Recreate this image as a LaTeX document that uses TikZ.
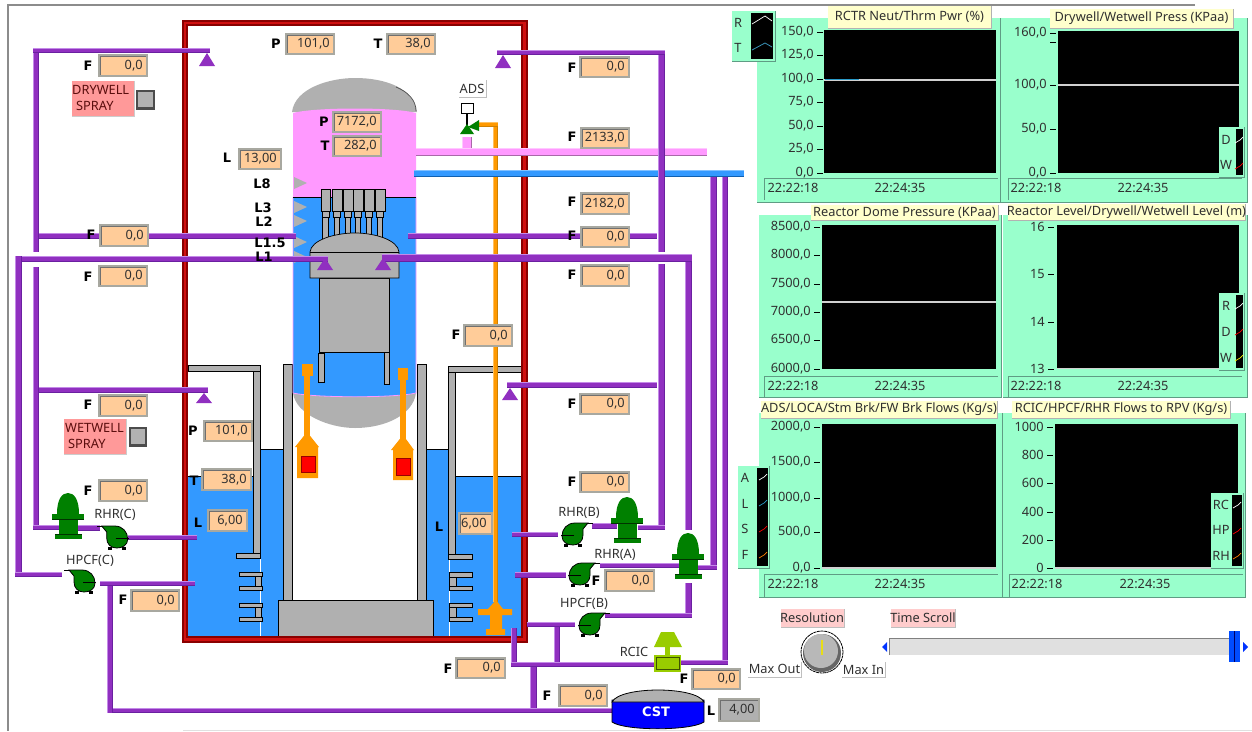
\documentclass[tikz,border=0pt]{standalone}
\usepackage{fontspec}
\setmainfont{Noto Sans}
\newfontfamily\bfam{DejaVu Sans}
\definecolor{purL}{HTML}{C48AE8}\definecolor{purM}{HTML}{9030C0}\definecolor{purD}{HTML}{6A20A0}
\definecolor{pnkL}{HTML}{FFC8FF}\definecolor{pnkM}{HTML}{FF99FF}\definecolor{pnkD}{HTML}{A868A8}
\definecolor{bluL}{HTML}{80C0FF}\definecolor{bluM}{HTML}{3399FF}\definecolor{bluD}{HTML}{1060B0}
\definecolor{oraL}{HTML}{FFC060}\definecolor{oraM}{HTML}{FF9900}\definecolor{oraD}{HTML}{D08000}
\definecolor{water}{HTML}{3399FF}\definecolor{steam}{HTML}{FF99FF}\definecolor{steel}{HTML}{B0B0B0}
\definecolor{peach}{HTML}{FFCC99}\definecolor{bev}{HTML}{A8A8A0}\definecolor{bevD}{HTML}{707070}
\definecolor{mint}{HTML}{99FFCC}\definecolor{mintD}{HTML}{5F9C84}\definecolor{tip}{HTML}{FFFFCC}
\definecolor{rose}{HTML}{FF9999}\definecolor{lrose}{HTML}{FFCCCC}\definecolor{pumpg}{HTML}{008000}
\definecolor{lime}{HTML}{99CC00}\definecolor{txt}{HTML}{303030}\definecolor{redD}{HTML}{8A0000}\definecolor{redM}{HTML}{D01010}
\newcounter{nd}
\tikzset{
  lab/.style={inner sep=0pt,font=\fontsize{12.8}{14}\selectfont,text=txt},
  blab/.style={inner sep=0pt,font=\bfam\fontsize{13}{14}\selectfont\bfseries,text=black},
  stl/.style={fill=steel,draw=black,line width=.7pt},
  pg/.style={fill=pumpg},
}
\newcommand\lbl[4][lab]{\stepcounter{nd}\node[#1] (t\arabic{nd}) at (#2,#3) {#4};}
\newcommand\hp[5]{\fill[#1M] (#2,{#4-.4}) rectangle (#3,{#5+.4});
  \fill[#1L] (#2,{#4-.4}) rectangle (#3,{#4+1});
  \fill[#1D] (#2,{#5-1}) rectangle (#3,{#5+.4});}
\newcommand\vp[5]{\fill[#1M] ({#2-.4},#4) rectangle ({#3+.4},#5);
  \fill[#1L] ({#2-.4},#4) rectangle ({#2+1},#5);
  \fill[#1D] ({#3-1},#4) rectangle ({#3+.4},#5);}
% value box: x1 y1 x2 y2 text colour
\newcommand\val[6][peach]{\stepcounter{nd}
  \fill[bev] (#2,#3) rectangle (#4,#5);
  \fill[bevD] ({#2+2},{#3+2}) rectangle ({#4-2},{#5-2});
  \fill[#1] ({#2+3},{#3+3}) rectangle ({#4-2},{#5-2});
  \node[lab,anchor=east] (v\arabic{nd}) at ({#4-5},{(#3+#5)/2}) {#6};}
\newcommand\valL[6][peach]{\stepcounter{nd}
  \fill[bev] (#2,#3) rectangle (#4,#5);
  \fill[bevD] ({#2+2},{#3+2}) rectangle ({#4-2},{#5-2});
  \fill[#1] ({#2+3},{#3+3}) rectangle ({#4-2},{#5-2});
  \node[lab,anchor=west] (v\arabic{nd}) at ({#2+3},{(#3+#5)/2}) {#6};}
\newcommand\tri[3]{\fill[purM] (#1,#2) -- ({#1-8},#3) -- ({#1+8},#3) -- cycle;}
\newcommand\lev[1]{\fill[steel] (294,{#1-6}) -- (307,#1) -- (294,{#1+6}) -- cycle;}
\newcommand\vpump[2]{\begin{scope}[shift={(#1,#2)}]
  \fill[pg] (-11,21) .. controls (-11,6) and (-6,0) .. (0,0) .. controls (6,0) and (11,6) .. (11,21) -- cycle;
  \fill[pg] (-16,21) rectangle (16,27);
  \fill[pg] (-9.5,27) rectangle (9.5,41);
  \fill[pg] (-13.5,41) rectangle (13.5,46);
  \fill[black!60!pumpg] (-16,26) rectangle (16,27);
  \fill[black!60!pumpg] (-13.5,41) rectangle (13.5,42);
\end{scope}}
\newcommand\hpump[3]{\begin{scope}[shift={(#1,#2)},xscale=#3]
  \fill[black] (-9,9) rectangle (-5,12);\fill[black] (5,9) rectangle (9,12);
  \fill[pg,draw=black,line width=.8pt] (-15,-12) -- (-2,-12) .. controls (6,-12) and (11,-6) .. (11,1)
     .. controls (11,7) and (6,10) .. (0,10) .. controls (-6,10) and (-10,6) .. (-10,0) -- (-10,-6) -- cycle;
  \draw[black,line width=1pt] (-1,0) -- (12,0);
  \draw[black,line width=1pt] (-15,-12) -- (-20,-12);
\end{scope}}
\newcommand\panel[4]{\fill[mint] (#1,#2) rectangle (#3,#4);
  \draw[mintD,line width=.8pt] (#3,#2) -- (#3,#4) -- (#1,#4);}
\newcommand\plot[4]{\fill[black] (#1,#2) rectangle (#3,#4);}
\newcommand\ctitle[5]{\fill[tip] (#1,#2) rectangle (#3,#4);
  \draw[black!30,line width=.8pt] (#3,#2) -- (#3,#4) -- (#1,#4);
  \lbl{{(#1+#3)/2}}{{(#2+#4)/2}}{#5}}
\newcommand\tk[3]{\draw[black,line width=.8pt] ({#1+3},#2) -- ({#1+9},#2);
  \lbl[lab,anchor=east]{#1}{#2}{#3}}
\newcommand\strip[6]{\draw[mintD,line width=.9pt] (#1,#4) -- (#1,#2) -- (#3,#2);
  \lbl{#5}{{#2+10}}{22:22:18}\lbl{#6}{{#2+10}}{22:24:35}}
\newcommand\legbox[4]{\fill[mint] (#1,#2) rectangle (#3,#4);
  \draw[mintD,line width=.8pt] (#3,#2) -- (#3,#4) -- (#1,#4);}
\newcommand\swatch[3]{\draw[#3,line width=.7pt] ({#1+1},{#2+3}) -- ({#1+6},#2) -- ({#1+9},{#2-3});}
\begin{document}
\begin{tikzpicture}[x=1pt,y=-1pt]
\useasboundingbox (0,0) rectangle (1252,731);
\fill[white] (0,0) rectangle (1252,731);
% window lines
\draw[black!45,line width=1.2pt] (1195,5) -- (8,5) -- (8,731);
\draw[black!12,line width=1pt] (183,730.5) -- (1252,730.5);
%% wetwell water
\fill[water] (188,476) rectangle (256,636);
\fill[water] (256,449) rectangle (290,636);
\fill[water] (420,449) rectangle (452,636);
\fill[water] (452,476) rectangle (521,636);
\draw[black,line width=1pt] (188,476) -- (256,476);
\draw[black,line width=1pt] (260,449) -- (284,449);
\draw[black,line width=1pt] (426,449) -- (449,449);
\draw[black,line width=1pt] (455,476) -- (521,476);
\draw[white,line width=.8pt] (260,558) -- (260,636);
\draw[white,line width=.8pt] (449,559) -- (449,636);
% pedestal + drywell walls
\draw[stl] (283,364) rectangle (292,600);
\draw[stl] (417,364) rectangle (426,600);
\draw[stl] (278,600) rectangle (433,637);
% left vents
\draw[stl] (188,365) rectangle (260,371);
\draw[stl] (253,371) rectangle (260,553);
\draw[stl] (236,553) rectangle (260,558);
\draw[stl] (255,576) rectangle (261,586);
\draw[stl] (239,572) rectangle (262,576);
\draw[stl] (239,586) rectangle (262,590);
\draw[stl] (255,607) rectangle (261,617);
\draw[stl] (239,603) rectangle (262,607);
\draw[stl] (239,617) rectangle (262,621);
% right vents
\draw[stl] (448,366) rectangle (526,372);
\draw[stl] (448,372) rectangle (455,555);
\draw[stl] (448,554) rectangle (472,559);
\draw[stl] (449,577) rectangle (456,586);
\draw[stl] (449,572) rectangle (472,577);
\draw[stl] (449,586) rectangle (472,590);
\draw[stl] (449,607) rectangle (456,617);
\draw[stl] (449,603) rectangle (472,607);
\draw[stl] (449,617) rectangle (472,621);
%% vessel
\fill[steel] (292,112) .. controls (295,88) and (330,78) .. (355,78) .. controls (385,78) and (414,88) .. (417,112) -- cycle;
\draw[black!70,line width=.7pt] (396,87) .. controls (408,92) and (416,100) .. (416,111);
\fill[steel] (293,393) .. controls (296,415) and (330,428) .. (355,428) .. controls (385,428) and (413,415) .. (416,393) -- cycle;
\fill[steam] (293,113) .. controls (315,107) and (395,107) .. (416,113) -- (416,197) -- (293,197) -- cycle;
\fill[water] (293,197) -- (416,197) -- (416,393) .. controls (395,398) and (315,398) .. (293,393) -- cycle;
\draw[steam,line width=.8pt] (293,197) -- (293,393) .. controls (315,398) and (395,398) .. (416,393) -- (416,197);
\draw[black,line width=1pt] (293,197) -- (416,197);
% separators
\foreach \a/\b in {321/330,332/342,343/353,353/363,364/374,375/385}{
  \draw[stl] ({(\a+\b)/2-2.8},217) rectangle ({(\a+\b)/2+2.8},240);
  \draw[stl] ({(\a+\b)/2-3.5},211) rectangle ({(\a+\b)/2+3.5},217);
  \draw[stl] (\a,189) rectangle (\b,211);
}
\draw[stl] (319,278) rectangle (389,352);
\draw[stl] (310,252) .. controls (311,240) and (335,233) .. (355,233) .. controls (375,233) and (398,240) .. (399,252) -- (399,278) -- (310,278) -- cycle;
\draw[black,line width=.7pt] (310,252) -- (399,252);
\draw[stl] (318,353) rectangle (324,382);
\draw[stl] (384,352) rectangle (389,384);
\lev{183}\lev{207}\lev{221}\lev{242}\lev{257}
%% SRV
\fill[oraM] (302,364) rectangle (313,376);\fill[oraM] (304,376) rectangle (310,440);
\fill[oraM] (307,432) -- (319,447) -- (318,447) -- (318,478) -- (297,478) -- (297,447) -- (295,447) -- cycle;
\fill[red] (301,456) rectangle (315,472);\draw[red!60!black,line width=.6pt] (301,456) rectangle (315,472);
\fill[oraM] (398,368) rectangle (408,380);\fill[oraM] (400,380) rectangle (406,440);
\fill[oraM] (403,435) -- (414,450) -- (413,450) -- (413,480) -- (393,480) -- (393,450) -- (391,450) -- cycle;
\fill[red] (396,458) rectangle (410,475);\draw[red!60!black,line width=.6pt] (396,458) rectangle (410,475);
%% orange relief line
\vp{ora}{493}{498}{122}{602}
\hp{ora}{478}{498}{122}{127}
\fill[oraM] (496,600) -- (503,609) -- (512,609) -- (512,615) -- (502,615) -- (502,629) -- (505,629) -- (505,635) -- (486,635) -- (486,629) -- (490,629) -- (490,615) -- (478,615) -- (478,609) -- (488,609) -- cycle;
%% ADS valve
\vp{pnk}{462}{472}{137}{148}
\draw[black,line width=1.2pt] (467,113) -- (467,129);
\fill[pg] (460,134) -- (467,124) -- (474,134) -- cycle;
\fill[pg] (479,120) -- (479,131) -- (468,127) -- cycle;
\fill[white,draw=black,line width=.9pt] (461,103) rectangle (473,113);
\fill[white] (459,80) rectangle (486,97);
\draw[black!25,line width=.8pt] (486,80) -- (486,97) -- (459,97);
\lbl{472}{89}{ADS}
%% containment
\draw[redD,line width=6.4pt] (185,23) rectangle (524.5,639.5);
\draw[redM,line width=2.4pt] (185,23) rectangle (524.5,639.5);
%% steam & feedwater
\hp{pnk}{416}{707}{148}{156}
\hp{blu}{414}{744}{170}{177}
%% purple verticals right
\vp{pur}{710}{717}{177}{570}
\vp{pur}{722}{728}{177}{665}
\hp{pur}{698}{717}{565}{570}
\hp{pur}{678}{728}{660}{665}
\vp{pur}{658}{665}{50}{252}
\vp{pur}{658}{665}{264}{530}
\hp{pur}{497}{665}{50}{55}
\hp{pur}{638}{665}{525}{530}
\hp{pur}{408}{657}{233}{239}
\hp{pur}{507}{657}{382}{388}
\vp{pur}{685}{692}{254}{530}
\vp{pur}{685}{692}{583}{618}
\hp{pur}{382}{692}{254}{262}
\hp{pur}{605}{692}{613}{618}
\hp{pur}{592}{617}{523}{529}
\hp{pur}{512}{558}{532}{537}
\hp{pur}{600}{683}{563}{568}
\hp{pur}{515}{566}{572}{578}
\hp{pur}{527}{575}{622}{627}
\vp{pur}{554}{560}{627}{665}
\vp{pur}{511}{517}{628}{667}
\hp{pur}{511}{655}{662}{667}
\vp{pur}{530}{537}{667}{713}
\hp{pur}{107}{612}{708}{713}
%% purple left
\vp{pur}{33}{39}{48}{252}
\vp{pur}{33}{39}{267}{530}
\hp{pur}{33}{210}{48}{53}
\hp{pur}{39}{296}{233}{239}
\hp{pur}{15}{328}{256}{262}
\vp{pur}{15}{22}{256}{577}
\hp{pur}{15}{62}{572}{577}
\hp{pur}{39}{208}{387}{393}
\hp{pur}{33}{60}{525}{530}
\hp{pur}{78}{100}{525}{531}
\hp{pur}{128}{197}{535}{540}
\hp{pur}{100}{195}{581}{586}
\vp{pur}{107}{113}{586}{713}
\tri{207}{53}{66}\tri{204}{393}{403}\tri{325}{258}{270}\tri{383}{258}{270}\tri{503}{55}{68}\tri{510}{388}{400}
%% pumps
\vpump{68}{493}\vpump{627}{497}\vpump{688}{533}
\hpump{116.7}{538}{1}\hpump{84}{582}{1}\hpump{573}{535}{-1}\hpump{580}{575}{-1}\hpump{590}{625}{-1}
%% RCIC
\fill[lime] (661,632) -- (674,632) -- (682,647) -- (654,647) -- cycle;
\fill[lime] (665,647) rectangle (670,657);
\fill[lime] (654,655) rectangle (681,672);
\draw[black!60!lime,line width=.7pt] (656,657) rectangle (679,669);
%% CST
\fill[blue,draw=black,line width=.8pt] (612,700) -- (612,722) .. controls (625,731) and (690,731) .. (704,722) -- (704,700) -- cycle;
\fill[steel,draw=black,line width=.8pt] (612,702) .. controls (620,686) and (696,686) .. (704,702) -- cycle;
\lbl[blab,text=white]{656}{712}{CST}
%% spray labels
\fill[rose] (72,81) rectangle (134,116);\draw[black!20,line width=.7pt] (134,81) -- (134,116) -- (72,116);
\lbl[lab,anchor=west,text=txt!50!red!60!black]{72}{90}{DRYWELL}\lbl[lab,anchor=west,text=txt!50!red!60!black]{76}{106}{SPRAY}
\fill[rose] (64,419) rectangle (126,454);\draw[black!20,line width=.7pt] (126,419) -- (126,454) -- (64,454);
\lbl[lab,anchor=west,text=txt!50!red!60!black]{65}{428}{WETWELL}\lbl[lab,anchor=west,text=txt!50!red!60!black]{68}{444}{SPRAY}
\fill[black!70] (136,90) rectangle (155,110);\fill[black!30] (138,92) rectangle (153,107);
\fill[black!70] (129,427) rectangle (147,447);\fill[black!30] (131,429) rectangle (145,444);
%% values, left
\val{285}{33}{335}{55}{101,0}\lbl[blab]{276}{44}{P}
\val{386}{33}{436}{55}{38,0}\lbl[blab]{378}{44}{T}
\val{98}{54}{148}{77}{0,0}\lbl[blab]{88}{66}{F}
\val{99}{224}{149}{247}{0,0}\lbl[blab]{91}{235}{F}
\val{98}{265}{148}{287}{0,0}\lbl[blab]{88}{277}{F}
\val{98}{394}{148}{417}{0,0}\lbl[blab]{88}{405}{F}
\val{98}{479}{148}{502}{0,0}\lbl[blab]{88}{491}{F}
\val{130}{589}{180}{612}{0,0}\lbl[blab]{123}{600}{F}
\val{203}{420}{253}{442}{101,0}\lbl[blab]{193}{431}{P}
\val{201}{468}{252}{491}{38,0}\lbl[blab]{194}{481}{T}
\val{207}{509}{248}{532}{6,00}\lbl[blab]{198}{523}{L}
\val{238}{148}{282}{170}{13,00}\lbl[blab]{227}{158}{L}
\val{332}{111}{382}{133}{7172,0}\lbl[blab]{324}{122}{P}
\val{332}{135}{382}{157}{282,0}\lbl[blab]{325}{146}{T}
%% values, right
\val{579}{56}{630}{78}{0,0}\lbl[blab]{572}{68}{F}
\val{580}{127}{630}{149}{2133,0}\lbl[blab]{572}{137}{F}
\val{580}{192}{630}{215}{2182,0}\lbl[blab]{572}{202}{F}
\val{580}{226}{630}{248}{0,0}\lbl[blab]{572}{236}{F}
\val{580}{264}{630}{287}{0,0}\lbl[blab]{572}{275}{F}
\val{463}{324}{513}{347}{0,0}\lbl[blab]{456}{335}{F}
\val{579}{393}{630}{415}{0,0}\lbl[blab]{572}{404}{F}
\val{579}{471}{630}{493}{0,0}\lbl[blab]{572}{482}{F}
\val{604}{569}{655}{592}{0,0}\lbl[blab]{596}{581}{F}
\val{455}{657}{506}{679}{0,0}\lbl[blab]{448}{669}{F}
\val{558}{684}{608}{707}{0,0}\lbl[blab]{547}{696}{F}
\val{691}{668}{741}{690}{0,0}\lbl[blab]{684}{679}{F}
\val[steel]{718}{698}{760}{722}{4,00}\lbl[blab]{711}{711}{L}
\valL{458}{512}{493}{535}{6,00}\lbl[blab]{439}{527}{L}
%% redraw orange over 6,00 edge
\vp{ora}{493}{498}{505}{540}
%% level labels
\lbl[blab]{262}{184}{L8}\lbl[blab]{263}{208}{L3}\lbl[blab]{264}{222}{L2}\lbl[blab]{270}{243}{L1.5}\lbl[blab]{264}{257}{L1}
%% pump labels
\lbl{115}{515}{RHR(C)}\lbl{90}{561}{HPCF(C)}\lbl{579}{513}{RHR(B)}\lbl{615}{555}{RHR(A)}\lbl{584}{604}{HPCF(B)}\lbl{634}{652}{RCIC}
%% chart 1
\panel{757}{18}{1000}{202}\plot{824}{30}{996}{173}
\tk{814}{32}{150,0}\tk{814}{55}{125,0}\tk{814}{79}{100,0}\tk{814}{102}{75,0}\tk{814}{126}{50,0}\tk{814}{149}{25,0}\tk{814}{173}{0,0}
\draw[black!18,line width=1.1pt] (824,80) -- (996,80);\draw[cyan!80!black,line width=1.1pt] (825,79.5) -- (859,79.5);
\strip{764}{178}{998}{200}{793}{900}
\ctitle{828}{6}{991}{28}{RCTR Neut/Thrm Pwr (\%)}
\legbox{732}{11}{775}{61}\fill[black] (751,13) rectangle (773,59);
\draw[white,line width=.7pt] (752,24) -- (765,16) -- (772,21);\draw[cyan!70!black,line width=.8pt] (752,50) -- (765,43) -- (772,47);
\lbl{738}{23}{R}\lbl{738}{48}{T}
%% chart 2
\panel{1001}{18}{1247}{202}\plot{1058}{31}{1239}{173}
\tk{1047}{33}{160,0}\draw[black,line width=.8pt] (1050,42) -- (1056,42);\tk{1047}{85}{100,0}\tk{1047}{129}{50,0}\tk{1047}{173}{0,0}
\draw[black!18,line width=1.1pt] (1058,85) -- (1239,85);
\strip{1008}{178}{1242}{200}{1036}{1143}
\ctitle{1050}{9}{1233}{28}{Drywell/Wetwell Press (KPaa)}
\legbox{1219}{127}{1244}{177}\fill[black] (1236,129) rectangle (1243,175);\swatch{1234}{140}{white}\swatch{1234}{166}{red}
\lbl{1226}{140}{D}\lbl{1226}{165}{W}
%% chart 3
\panel{759}{215}{1001}{397}\plot{822}{225}{996}{369}
\tk{811}{227}{8500,0}\tk{811}{255}{8000,0}\tk{811}{284}{7500,0}\tk{811}{312}{7000,0}\tk{811}{340}{6500,0}\tk{811}{369}{6000,0}
\draw[black!18,line width=1.1pt] (822,302) -- (996,302);
\strip{764}{376}{998}{397}{793}{900}
\ctitle{811}{205}{998}{220}{Reactor Dome Pressure (KPaa)}
%% chart 4
\panel{1003}{215}{1247}{397}\plot{1057}{225}{1239}{369}
\tk{1045}{227}{16}\tk{1045}{274}{15}\tk{1045}{322}{14}\tk{1045}{369}{13}
\draw[black!18,line width=1.1pt] (1057,368.5) -- (1239,368.5);
\strip{1008}{376}{1242}{397}{1036}{1143}
\ctitle{1008}{204}{1245}{220}{Reactor Level/Drywell/Wetwell Level (m)}
\legbox{1219}{293}{1244}{370}\fill[black] (1236,295) rectangle (1243,368);\swatch{1234}{306}{white}\swatch{1234}{332}{red}\swatch{1234}{358}{yellow}
\lbl{1226}{306}{R}\lbl{1226}{332}{D}\lbl{1226}{358}{W}
%% chart 5
\panel{759}{413}{1002}{597}\plot{822}{424}{996}{568}
\tk{811}{427}{2000,0}\tk{811}{462}{1500,0}\tk{811}{498}{1000,0}\tk{811}{532}{500,0}\tk{811}{568}{0,0}
\draw[black!18,line width=1.1pt] (822,568) -- (996,568);
\strip{764}{574}{998}{597}{793}{900}
\ctitle{761}{401}{997}{418}{ADS/LOCA/Stm Brk/FW Brk Flows (Kg/s)}
\legbox{738}{466}{769}{568}\fill[black] (757,468) rectangle (768,566);
\swatch{758}{477}{white}\swatch{758}{503}{cyan!80!black}\swatch{758}{529}{red}\swatch{758}{555}{orange}
\lbl{745}{478}{A}\lbl{745}{504}{L}\lbl{745}{529}{S}\lbl{745}{555}{F}
%% chart 6
\panel{1003}{413}{1245}{597}\plot{1055}{424}{1238}{568}
\tk{1044}{427}{1000}\tk{1044}{455}{800}\tk{1044}{483}{600}\tk{1044}{512}{400}\tk{1044}{540}{200}\tk{1044}{568}{0}
\draw[black!18,line width=1.1pt] (1055,568) -- (1238,568);
\strip{1009}{574}{1243}{597}{1037}{1145}
\ctitle{1012}{401}{1230}{418}{RCIC/HPCF/RHR Flows to RPV (Kg/s)}
\legbox{1211}{493}{1243}{568}\fill[black] (1232,495) rectangle (1242,566);
\swatch{1232}{505}{white}\swatch{1232}{531}{red}\swatch{1232}{556}{orange}
\lbl{1221}{505}{RC}\lbl{1221}{530}{HP}\lbl{1221}{556}{RH}
%% controls
\fill[lrose] (781,609) rectangle (844,627);\draw[black!25,line width=.7pt] (844,609) -- (844,627) -- (781,627);
\lbl{812}{618}{Resolution}
\fill[lrose] (891,609) rectangle (955,627);\draw[black!25,line width=.7pt] (955,609) -- (955,627) -- (891,627);
\lbl{923}{618}{Time Scroll}
\draw[black,line width=.8pt,dash pattern=on 3pt off .6pt] (822,652) circle[radius=21];
\fill[black!60] (822,653) circle[radius=19];
\fill[black!28] (821,651) circle[radius=17];
\draw[yellow!90!black,line width=1.2pt] (822,640) -- (822,655);
\fill[white] (748,662) rectangle (801,677);\draw[black!25,line width=.8pt] (801,662) -- (801,677) -- (748,677);
\lbl{774.5}{669}{Max Out}
\fill[white] (842,662) rectangle (885,677);\draw[black!25,line width=.8pt] (885,662) -- (885,677) -- (842,677);
\lbl{863.5}{670}{Max In}
\fill[black!12] (889,638) rectangle (1229,655);
\draw[black!50,line width=.8pt] (889,655) -- (889,638) -- (1229,638);
\fill[blue!80!cyan] (887,642) -- (887,652) -- (882,647) -- cycle;
\fill[blue!80!cyan] (1243,642) -- (1243,652) -- (1248,647) -- cycle;
\fill[blue!70!cyan] (1229,631) rectangle (1240,662);
\draw[black!60!blue,line width=.7pt] (1234.5,631) -- (1234.5,662);
\end{tikzpicture}
\end{document}
